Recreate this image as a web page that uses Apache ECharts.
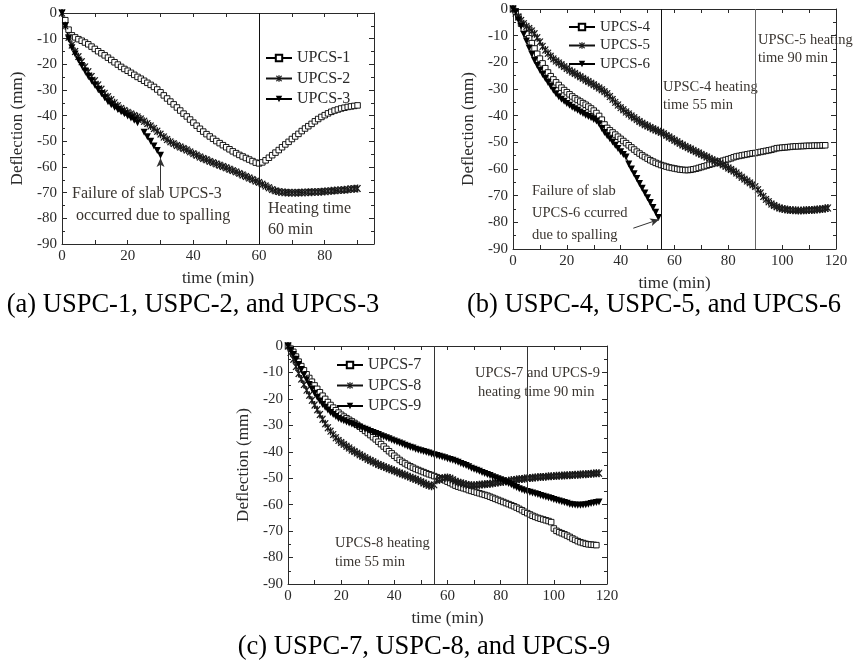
<!DOCTYPE html>
<html>
<head>
<meta charset="utf-8">
<title>Deflection vs time</title>
<script src="https://cdn.jsdelivr.net/npm/echarts@6/dist/echarts.min.js"></script>
<style>
  html, body { margin: 0; padding: 0; background: #fff; }
  #chart { width: 856px; height: 661px; }
</style>
</head>
<body>
<div id="chart"></div>
<script>
// time (min) for each panel
var tA = [0,1,2,3,4,5,6,7,8,9,10,11,12,13,14,15,16,17,18,19,20,21,22,23,24,25,26,27,28,29,
  30,31,32,33,34,35,36,37,38,39,40,41,42,43,44,45,46,47,48,49,50,51,52,53,54,55,56,57,58,59,
  60,61,62,63,64,65,66,67,68,69,70,71,72,73,74,75,76,77,78,79,80,81,82,83,84,85,86,87,88,89,90];
var tB = [0,1,2,3,4,5,6,7,8,9,10,11,12,13,14,15,16,17,18,19,20,21,22,23,24,25,26,27,28,29,
  30,31,32,33,34,35,36,37,38,39,40,41,42,43,44,45,46,47,48,49,50,51,52,53,54,55,56,57,58,59,
  60,61,62,63,64,65,66,67,68,69,70,71,72,73,74,75,76,77,78,79,80,81,82,83,84,85,86,87,88,89,
  90,91,92,93,94,95,96,97,98,99,100,101,102,103,104,105,106,107,108,109,110,111,112,113,114,115,116,117];
var tC = tB;

// (a) deflection (mm)
var upcs1 = [null,-2.8,-6.5,-8.7,-9.5,-10.2,-10.8,-11.5,-12.2,-13.1,
  -14,-14.9,-15.7,-16.5,-17.4,-18.3,-19.2,-20.1,-21,-21.8,
  -22.5,-23.3,-24.1,-24.9,-25.6,-26.4,-27.2,-28,-28.8,-29.8,
  -30.9,-32.1,-33.3,-34.5,-35.6,-36.8,-38,-39.2,-40.3,-41.5,
  -42.7,-43.9,-45.1,-46.2,-47.2,-48.1,-49,-49.9,-50.7,-51.5,
  -52.3,-53.1,-53.9,-54.6,-55.3,-55.9,-56.5,-57.1,-57.7,-58.3,
  -58.6,-58.2,-57.4,-56.4,-55.4,-54.4,-53.4,-52.3,-51.2,-50.2,
  -49.1,-48.1,-47.1,-46,-45,-44.1,-43.2,-42.2,-41.3,-40.5,
  -39.8,-39.1,-38.5,-38,-37.6,-37.2,-36.9,-36.6,-36.4,-36.2,
  -36];
var upcs2 = [0,-5,-9.5,-12.5,-15,-17,-19,-21,-22.9,-24.7,
  -26.4,-28,-29.7,-31.3,-32.6,-33.8,-35,-36.1,-37.2,-38,
  -38.7,-39.3,-39.9,-40.5,-41.3,-42.2,-43.1,-44,-45,-46.1,
  -47.2,-48.3,-49.3,-50.2,-50.9,-51.6,-52.2,-52.8,-53.4,-54.1,
  -54.8,-55.4,-56.1,-56.7,-57.2,-57.8,-58.3,-58.8,-59.3,-59.8,
  -60.3,-60.9,-61.4,-61.9,-62.5,-63.1,-63.7,-64.3,-64.9,-65.5,
  -66,-66.7,-67.4,-68.1,-68.8,-69.3,-69.6,-69.8,-69.9,-70,
  -70,-70,-70,-69.9,-69.9,-69.8,-69.8,-69.7,-69.7,-69.6,
  -69.5,-69.4,-69.3,-69.2,-69.1,-69,-68.9,-68.8,-68.6,-68.5,
  -68.4];
var upcs3 = [0,-5,-10,-13.5,-16,-18.3,-20.5,-22.6,-24.6,-26.4,
  -28.1,-29.8,-31.4,-33,-34.6,-35.7,-36.7,-37.6,-38.5,-39.3,
  -40.1,-40.9,-41.8,-42.8,null,-46.5,-48.2,-50,-51.8,-53.6,
  -55.4];

// (b)
var upcs4 = [0,-1,-3,-5.5,-7.5,-9.3,-11,-12.8,-14.8,-16.8,
  -18.6,-20.4,-22.2,-23.8,-25.2,-26.4,-27.5,-28.5,-29.5,-30.4,
  -31.2,-32,-32.8,-33.5,-34.1,-34.7,-35.3,-35.9,-36.6,-37.3,
  -38.1,-39,-40.1,-41.5,-43.3,-44.6,-45.5,-46.3,-47.1,-47.9,
  -48.7,-49.5,-50.3,-51.1,-51.9,-52.7,-53.5,-54.2,-54.9,-55.5,
  -56.1,-56.7,-57.2,-57.7,-58.1,-58.5,-58.8,-59.1,-59.4,-59.6,
  -59.8,-60,-60.2,-60.3,-60.4,-60.4,-60.3,-60.1,-59.9,-59.6,
  -59.3,-59,-58.7,-58.4,-58.1,-57.8,-57.5,-57.2,-56.9,-56.6,
  -56.3,-56,-55.6,-55.3,-55.1,-54.9,-54.7,-54.5,-54.3,-54.1,
  -54,-53.8,-53.6,-53.4,-53.2,-53,-52.8,-52.5,-52.2,-52.1,
  -52,-51.9,-51.8,-51.7,-51.6,-51.5,-51.5,-51.4,-51.4,-51.3,
  -51.3,-51.3,-51.2,-51.2,-51.2,-51.1,-51.1];
var upcs5 = [0,-1.5,-3,-4.3,-5.5,-6.5,-7.3,-8.2,-9.3,-10.8,
  -12.4,-14,-15.4,-16.6,-17.7,-18.7,-19.5,-20.2,-20.9,-21.6,
  -22.3,-23,-23.6,-24.2,-24.8,-25.4,-26,-26.6,-27.2,-27.8,
  -28.4,-29,-29.6,-30.3,-31,-31.8,-32.8,-33.9,-35,-36,
  -37,-37.8,-38.6,-39.4,-40.1,-40.8,-41.5,-42.2,-42.8,-43.4,
  -43.9,-44.4,-44.9,-45.4,-45.8,-46.2,-46.8,-47.4,-48,-48.6,
  -49.2,-49.8,-50.4,-51,-51.5,-52,-52.5,-53,-53.5,-54,
  -54.5,-55,-55.5,-56,-56.5,-57,-57.4,-57.8,-58.4,-59,
  -59.6,-60.2,-60.8,-61.5,-62.3,-63.1,-63.8,-64.5,-65.2,-65.9,
  -66.6,-67.8,-69,-70.3,-71.4,-72.3,-73.1,-73.7,-74.2,-74.6,
  -74.9,-75.1,-75.3,-75.4,-75.5,-75.5,-75.6,-75.6,-75.5,-75.5,
  -75.4,-75.4,-75.3,-75.2,-75.1,-75,-74.8,-74.6];
var upcs6 = [0,-1,-4,-6.5,-9.5,-12,-14.6,-17,-19.3,-21.2,
  -23,-24.6,-26.1,-27.6,-29,-30.5,-31.8,-32.9,-33.8,-34.6,
  -35.4,-36.1,-36.8,-37.4,-38,-38.6,-39.2,-39.8,-40.3,-40.8,
  -41.4,-42,-43,-44.8,-46.3,-47.5,-48.7,-49.9,-51.1,-52.3,
  -53.5,-54.6,-55.5,-58.1,-60,-61.8,-63.6,-65.4,-67.2,-69,
  -70.8,-72.6,-74.4,-76.2,-78.2];

// (c)
var upcs7 = [0,-1,-2.2,-4,-5.9,-7.6,-9.2,-10.7,-12.1,-13.5,
  -14.9,-16.2,-17.5,-18.8,-20,-21.2,-22.3,-23.3,-24.3,-25.2,
  -26,-26.7,-27.3,-27.9,-28.5,-29.1,-29.8,-30.5,-31.3,-32.1,
  -32.9,-33.7,-34.5,-35.3,-36.2,-37.1,-38,-38.9,-39.8,-40.6,
  -41.5,-42.3,-43.1,-43.8,-44.4,-45,-45.5,-46,-46.5,-46.9,
  -47.3,-47.7,-48.1,-48.5,-48.8,-49.2,-49.6,-50,-50.4,-50.8,
  -51.3,-51.8,-52.3,-52.8,-53.2,-53.5,-53.8,-54.1,-54.5,-54.8,
  -55.1,-55.4,-55.7,-56,-56.3,-56.6,-57,-57.4,-57.8,-58.2,
  -58.6,-59,-59.4,-59.8,-60.2,-60.6,-61.1,-61.6,-62.1,-62.7,
  -63.2,-63.7,-64.2,-64.6,-65,-65.3,-65.6,-65.9,-66.2,-66.6,
  -69,-69.9,-70.4,-70.8,-71.2,-71.7,-72.2,-72.8,-73.3,-73.8,
  -74.2,-74.5,-74.8,-75,-75.1,-75.2,-75.3];
var upcs8 = [0,-2.5,-5,-7.8,-10.4,-12.5,-14.6,-16.7,-18.6,-20.5,
  -22.3,-24.1,-25.9,-27.7,-29.4,-30.9,-32.2,-33.5,-34.7,-35.7,
  -36.5,-37.2,-37.9,-38.6,-39.3,-39.9,-40.5,-41.1,-41.7,-42.2,
  -42.8,-43.3,-43.8,-44.3,-44.8,-45.2,-45.6,-46,-46.4,-46.8,
  -47.2,-47.6,-48,-48.4,-48.8,-49.2,-49.6,-50,-50.4,-50.8,
  -51.3,-51.8,-52.3,-52.7,-53,-52.5,-50.8,-50.4,-50.1,-49.8,
  -49.7,-50,-50.6,-51.1,-51.5,-51.8,-52.1,-52.4,-52.6,-52.7,
  -52.7,-52.6,-52.5,-52.4,-52.3,-52.2,-52.1,-51.9,-51.7,-51.6,
  -51.4,-51.3,-51.1,-51,-50.8,-50.7,-50.5,-50.4,-50.3,-50.1,
  -50,-49.9,-49.8,-49.7,-49.6,-49.5,-49.5,-49.4,-49.3,-49.3,
  -49.2,-49.1,-49.1,-49,-49,-48.9,-48.9,-48.8,-48.7,-48.7,
  -48.6,-48.5,-48.5,-48.4,-48.3,-48.2,-48.1,-48.1];
var upcs9 = [0,-1.5,-3.2,-5,-7,-8.9,-10.9,-12.8,-14.6,-16.3,
  -17.9,-19.4,-20.8,-22.1,-23.2,-24.2,-25.1,-25.9,-26.7,-27.4,
  -27.9,-28.3,-28.7,-29.1,-29.5,-29.9,-30.3,-30.7,-31.1,-31.5,
  -31.9,-32.3,-32.7,-33.1,-33.5,-33.9,-34.3,-34.7,-35.1,-35.5,
  -35.9,-36.3,-36.7,-37.1,-37.5,-37.9,-38.3,-38.6,-39,-39.3,
  -39.6,-39.9,-40.2,-40.5,-40.8,-41.1,-41.4,-41.7,-42,-42.3,
  -42.6,-42.9,-43.2,-43.6,-44,-44.4,-44.8,-45.2,-45.7,-46.2,
  -46.6,-47,-47.4,-47.8,-48.2,-48.6,-49,-49.4,-49.8,-50.2,
  -50.6,-51,-51.5,-52,-52.5,-53,-53.5,-54,-54.4,-54.7,
  -55,-55.3,-55.6,-55.9,-56.2,-56.5,-56.8,-57.1,-57.4,-57.7,
  -58,-58.3,-58.6,-58.9,-59.2,-59.5,-59.8,-60,-60.1,-60.2,
  -60.2,-60.1,-60,-59.8,-59.6,-59.4,-59.2,-59];

// heating time lines and failure arrows
var heatA = [60];
var heatB = [55, 90];
var heatC = [55, 90];
var arrowA = [[30, -69], [30, -56.5]];
var arrowB = [[44.7, -82.2], [54.3, -78.9]];

var serif = '"Liberation Serif", "Times New Roman", serif';
var ink = '#2a2a2a';
var starPath = 'path://M-0.6,-5L0.6,-5L0.6,5L-0.6,5Z' +
  'M-3.02,-4.03L-1.98,-4.63L3.02,4.03L1.98,4.63Z' +
  'M-1.98,4.63L-3.02,4.03L1.98,-4.63L3.02,-4.03Z';

function pairs(t, v) {
  return v.map(function (y, i) { return [t[i], y]; });
}

function xAxes(grid, max) {
  var base = {
    gridIndex: grid, type: 'value', min: 0, max: max, interval: 10,
    axisLine: { show: true, onZero: false, lineStyle: { color: ink, width: 1 } },
    axisTick: { show: true, inside: true, length: 4, lineStyle: { color: ink } },
    splitLine: { show: false }
  };
  var bottom = Object.assign({}, base, {
    position: 'bottom',
    axisLabel: {
      color: ink, fontFamily: serif, fontSize: 15, margin: 5,
      formatter: function (v) { return v % 20 === 0 ? String(v) : ''; }
    },
    name: 'time (min)', nameLocation: 'middle', nameGap: 26,
    nameTextStyle: { color: ink, fontFamily: serif, fontSize: 17 }
  });
  var top = Object.assign({}, base, { position: 'top', axisLabel: { show: false } });
  return [bottom, top];
}

function yAxes(grid) {
  var base = {
    gridIndex: grid, type: 'value', min: -90, max: 0, interval: 10,
    axisLine: { show: true, onZero: false, lineStyle: { color: ink, width: 1 } },
    axisTick: { show: true, inside: true, length: 5, lineStyle: { color: ink } },
    minorTick: { show: true, splitNumber: 2, length: 3, lineStyle: { color: ink } },
    splitLine: { show: false }
  };
  var left = Object.assign({}, base, {
    position: 'left',
    axisLabel: { color: ink, fontFamily: serif, fontSize: 15, margin: 5 },
    name: 'Deflection (mm)', nameLocation: 'middle', nameGap: 36,
    nameTextStyle: { color: ink, fontFamily: serif, fontSize: 17 }
  });
  var right = Object.assign({}, base, { position: 'right', axisLabel: { show: false } });
  return [left, right];
}

function squares(name, axis, data, extra) {
  return Object.assign({
    name: name, type: 'line', xAxisIndex: axis, yAxisIndex: axis, data: data,
    symbol: 'rect', symbolSize: 5.5, showAllSymbol: true,
    lineStyle: { color: '#000', width: 0.8 },
    itemStyle: { color: '#fff', borderColor: '#000', borderWidth: 0.9 }
  }, extra || {});
}
function stars(name, axis, data, extra) {
  return Object.assign({
    name: name, type: 'line', xAxisIndex: axis, yAxisIndex: axis, data: data,
    symbol: starPath, symbolSize: [7, 8], showAllSymbol: true,
    lineStyle: { color: '#111', width: 1 },
    itemStyle: { color: '#1a1a1a' }
  }, extra || {});
}
function triangles(name, axis, data, extra) {
  return Object.assign({
    name: name, type: 'line', xAxisIndex: axis, yAxisIndex: axis, data: data,
    symbol: 'triangle', symbolRotate: 180, symbolSize: 7, showAllSymbol: true,
    lineStyle: { color: '#000', width: 1 },
    itemStyle: { color: '#000' }
  }, extra || {});
}

function heatLines(xs, colors) {
  return {
    silent: true, symbol: 'none', animation: false,
    label: { show: false },
    data: xs.map(function (x, i) {
      return { xAxis: x, lineStyle: { color: colors[i], type: 'solid', width: 1 } };
    })
  };
}
function arrowLine(a) {
  return {
    silent: true, symbol: ['none', 'arrow'], symbolSize: [6, 9], animation: false,
    label: { show: false },
    lineStyle: { color: '#333', type: 'solid', width: 1 },
    data: [[{ coord: a[0] }, { coord: a[1] }]]
  };
}

function legend(names, left, top, gap, size) {
  return {
    data: names, left: left, top: top, orient: 'vertical', padding: 0,
    itemWidth: 26, itemHeight: 8, itemGap: gap, selectedMode: false,
    textStyle: { color: ink, fontFamily: serif, fontSize: size, lineHeight: 16 }
  };
}

function note(text, x, y, size, align) {
  return {
    type: 'text', silent: true,
    style: {
      text: text, x: x, y: y, fill: size > 20 ? '#000' : '#3a3530',
      font: size + 'px ' + serif, align: align || 'left', verticalAlign: 'middle'
    }
  };
}

var chart = echarts.init(document.getElementById('chart'));

chart.setOption({
  backgroundColor: '#fff',
  animation: false,
  grid: [
    { left: 62, top: 13, width: 312, height: 231 },
    { left: 513, top: 9, width: 323, height: 240 },
    { left: 288, top: 346, width: 319, height: 238 }
  ],
  xAxis: xAxes(0, 95).concat(xAxes(1, 120), xAxes(2, 120)),
  yAxis: yAxes(0).concat(yAxes(1), yAxes(2)),
  legend: [
    legend(['UPCS-1', 'UPCS-2', 'UPCS-3'], 265, 50, 4.5, 16),
    legend(['UPCS-4', 'UPCS-5', 'UPCS-6'], 568, 19, 2.5, 15),
    legend(['UPCS-7', 'UPCS-8', 'UPCS-9'], 336, 357, 4.5, 16)
  ],
  series: [
    squares('UPCS-1', 0, pairs(tA, upcs1), { markLine: heatLines(heatA, ['#111']) }),
    stars('UPCS-2', 0, pairs(tA, upcs2)),
    triangles('UPCS-3', 0, pairs(tA, upcs3), { markLine: arrowLine(arrowA) }),

    squares('UPCS-4', 2, pairs(tB, upcs4), { markLine: heatLines(heatB, ['#111', '#666']) }),
    stars('UPCS-5', 2, pairs(tB, upcs5)),
    triangles('UPCS-6', 2, pairs(tB, upcs6), { markLine: arrowLine(arrowB) }),

    squares('UPCS-7', 4, pairs(tC, upcs7), { markLine: heatLines(heatC, ['#333', '#333']) }),
    stars('UPCS-8', 4, pairs(tC, upcs8)),
    triangles('UPCS-9', 4, pairs(tC, upcs9))
  ],
  graphic: [
    note('Failure of slab UPCS-3', 72, 194, 16),
    note('occurred due to spalling', 76, 216, 16),
    note('Heating time', 268, 209, 16),
    note('60 min', 268, 230, 16),

    note('UPSC-4 heating', 663, 87, 14.5),
    note('time 55 min', 663, 105, 14.5),
    note('UPSC-5 heating', 758, 40, 14.5),
    note('time 90 min', 758, 58, 14.5),
    note('Failure of slab', 532, 191, 14.5),
    note('UPCS-6 ccurred', 532, 213, 14.5),
    note('due to spalling', 532, 235, 14.5),

    note('UPCS-7 and UPCS-9', 475, 373, 14.5),
    note('heating time 90 min', 478, 392, 14.5),
    note('UPCS-8 heating', 335, 543, 14.5),
    note('time 55 min', 335, 562, 14.5),

    note('(a) USPC-1, USPC-2, and UPCS-3', 193, 305, 26.5, 'center'),
    note('(b) USPC-4, USPC-5, and UPCS-6', 654, 305, 26.5, 'center'),
    note('(c) USPC-7, USPC-8, and UPCS-9', 424, 647, 26.5, 'center')
  ]
});
</script>
</body>
</html>
